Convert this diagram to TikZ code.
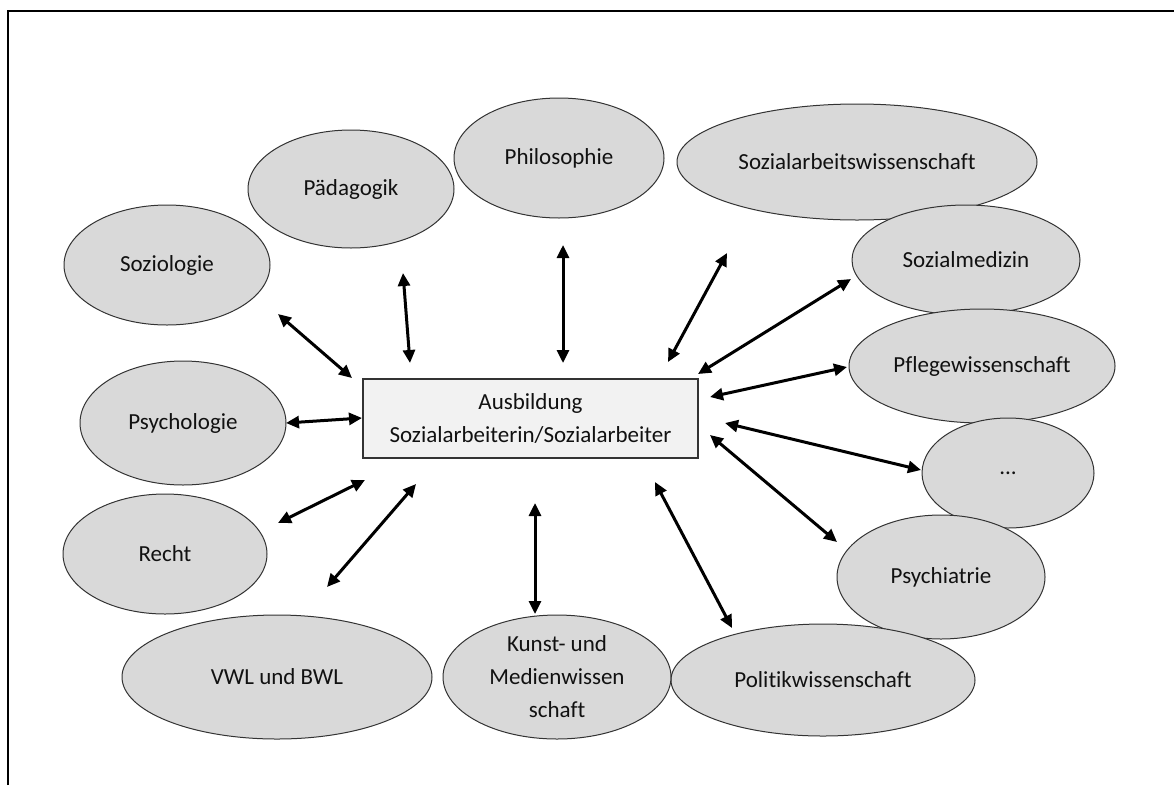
\documentclass[tikz,border=0pt]{standalone}
\usepackage{fontspec}
\setmainfont{Carlito}[Ligatures=NoCommon]
\usetikzlibrary{arrows.meta,shapes.geometric}
\definecolor{fieldgray}{HTML}{D9D9D9}
\definecolor{boxfill}{HTML}{F2F2F2}
\definecolor{edgegray}{HTML}{333333}
\definecolor{textdark}{HTML}{111111}
\begin{document}
\begin{tikzpicture}[x=1pt,y=-1pt,
  every node/.style={font=\fontsize{23}{33}\selectfont, text=textdark},
  field/.style 2 args={ellipse, draw=edgegray, line width=1pt, fill=fieldgray,
    inner sep=0pt, minimum width=#1pt, minimum height=#2pt, align=center},
  centerbox/.style={rectangle, draw=edgegray, line width=1.4pt, fill=boxfill,
    inner sep=0pt, minimum width=335pt, minimum height=79pt, align=center},
  link/.style={line width=3pt, {Triangle[length=13pt,width=12pt]}-{Triangle[length=13pt,width=12pt]}},
  frameline/.style={line width=2pt, line join=miter}]
\useasboundingbox (0,0) rectangle (1174,785);

% frame
\coordinate (fbl) at (8,785);
\coordinate (ftl) at (8,11);
\coordinate (ftr) at (1174,11);
\draw[frameline] (fbl) -- (ftl) -- (ftr);

% centre box
\node[centerbox] (ausb) at (530.5,418.5) {Ausbildung\\Sozialarbeiterin/Sozialarbeiter};

% fields
\node[field={206}{120}] (sozio) at (167,265) {Soziologie};
\node[field={206}{118}] (paed) at (351,189) {Pädagogik};
\node[field={210}{120}] (philo) at (559,158) {Philosophie};
\node[field={360}{116}] (saw) at (857,162) {Sozialarbeitswissenschaft};
\node[field={228}{110}] (smed) at (966,260) {Sozialmedizin};
\node[field={266}{114}] (pflege) at (982,366) {Pflegewissenschaft};
\node[field={172}{110}] (dots) at (1008,473) {...};
\node[field={208}{124}] (psychi) at (941,577) {Psychiatrie};
\node[field={304}{112}] (polit) at (823,680) {Politikwissenschaft};
\node[field={228}{124}] (kunst) at (557,677) {};
\node (kunsttext) at (kunst.center) [align=center] {Kunst- und\\Medienwissen\\schaft};
\node[field={310}{124}] (vwl) at (277,677) {VWL und BWL};
\node[field={204}{120}] (recht) at (165,554) {Recht};
\node[field={206}{124}] (psycho) at (183,423) {Psychologie};

% arrow end points
\coordinate (a1) at (278,314);  \coordinate (b1) at (352,378);
\coordinate (a2) at (403,273);  \coordinate (b2) at (410,363);
\coordinate (a3) at (563,245);  \coordinate (b3) at (563,363);
\coordinate (a4) at (727,253);  \coordinate (b4) at (668,362);
\coordinate (a5) at (851,279);  \coordinate (b5) at (698,374);
\coordinate (a6) at (847,367);  \coordinate (b6) at (710,397);
\coordinate (a7) at (921,470);  \coordinate (b7) at (725,423);
\coordinate (a8) at (837,542);  \coordinate (b8) at (710,435);
\coordinate (a9) at (732,628);  \coordinate (b9) at (655,482);
\coordinate (a10) at (535,614); \coordinate (b10) at (535,503);
\coordinate (a11) at (327,587); \coordinate (b11) at (416,484);
\coordinate (a12) at (278,523); \coordinate (b12) at (365,480);
\coordinate (a13) at (286,423); \coordinate (b13) at (362,418);

\foreach \i in {1,...,13} { \draw[link] (a\i) -- (b\i); }
\end{tikzpicture}
\end{document}
